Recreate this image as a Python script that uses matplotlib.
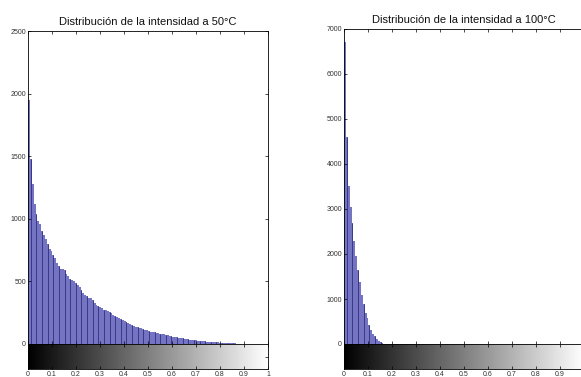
import numpy as np
import matplotlib
matplotlib.use('Agg')
import matplotlib.pyplot as plt

plt.rcParams.update({
    'font.family': ['Liberation Sans Narrow', 'Liberation Sans', 'DejaVu Sans'],
    'axes.linewidth': 0.6,
    'xtick.direction': 'in',
    'ytick.direction': 'in',
    'xtick.major.size': 2.2,
    'ytick.major.size': 2.2,
    'xtick.major.width': 0.5,
    'ytick.major.width': 0.5,
})

# 128 bins de intensidad en [0, 1]
N_BINS = 128

cuentas_50 = [
    1950, 1480, 1280, 1120, 1040, 980, 960, 900, 870, 840,
    800, 760, 740, 710, 690, 650, 620, 600, 600, 590,
    560, 540, 520, 510, 500, 490, 470, 455, 430, 410,
    390, 380, 370, 365, 350, 330, 315, 305, 295, 285,
    275, 270, 262, 256, 245, 232, 220, 212, 205, 200,
    195, 185, 176, 168, 160, 152, 145, 138, 135, 130,
    126, 120, 114, 108, 100, 97, 95, 92, 90, 86,
    82, 78, 76, 72, 68, 64, 60, 58, 55, 52,
    50, 47, 45, 42, 40, 38, 35, 32, 30, 28,
    26, 24, 22, 21, 20, 19, 18, 16, 15, 14,
    13, 12, 11, 10, 9, 8, 7, 6, 5, 5,
    4, 3, 3, 2, 2, 1, 0, 0, 0, 0,
    0, 0, 0, 0, 0, 0, 0, 0,
]

cuentas_100_ini = [
    6700, 4600, 3500, 3050, 2700, 2300, 1950, 1650, 1380, 1100,
    880, 700, 580, 430, 320, 230, 170, 120, 70, 40,
    15, 5,
]
cuentas_100 = cuentas_100_ini + [0] * (N_BINS - len(cuentas_100_ini))

titulos = ['Distribución de la intensidad a 50°C',
           'Distribución de la intensidad a 100°C']
ylims = [2500, 7000]
yticks = [np.arange(0, 2501, 500), np.arange(0, 7001, 1000)]
xticks = np.round(np.arange(0, 1.01, 0.1), 1)
# el panel derecho queda recortado antes de llegar al "1"
xticklabels = [
    ['0', '0.1', '0.2', '0.3', '0.4', '0.5', '0.6', '0.7', '0.8', '0.9', '1'],
    ['0', '0.1', '0.2', '0.3', '0.4', '0.5', '0.6', '0.7', '0.8', '0.9', ''],
]

COLOR_BARRA = '#7474c2'
COLOR_LINEA = '#1e1e70'
COLOR_TEXTO = '#333333'

W, H = 581, 377
fig = plt.figure(figsize=(W / 100, H / 100), dpi=100)


def px_axes(x0, y_top, x1, y_bot):
    return fig.add_axes([x0 / W, 1 - y_bot / H, (x1 - x0) / W, (y_bot - y_top) / H])


paneles = [
    (28, 31, 268, 344, 369),
    (344, 29, 584, 344, 369),
]

bordes = np.linspace(0, 1, N_BINS + 1)
ancho = bordes[1] - bordes[0]
gradiente = np.linspace(0, 1, 256).reshape(1, -1)

for (x0, yt, x1, yb, yc), cuentas, titulo, ylim, yt_vals, xlabs in zip(
        paneles, [cuentas_50, cuentas_100], titulos, ylims, yticks, xticklabels):
    ax = px_axes(x0, yt, x1, yb)
    ax.bar(bordes[:-1], cuentas, width=ancho, align='edge',
           color=COLOR_BARRA, linewidth=0)
    # líneas oscuras tipo stem de imhist
    idx = np.arange(1, N_BINS, 3)
    alturas = np.array(cuentas)[idx]
    mask = alturas > 0
    ax.vlines(bordes[idx][mask] + ancho * 0.5, 0, alturas[mask],
              color=COLOR_LINEA, linewidth=0.6, alpha=0.8)

    ax.set_xlim(0, 1)
    ax.set_ylim(0, ylim)
    ax.set_xticks(xticks)
    ax.set_xticklabels([])
    ax.set_yticks(yt_vals)
    ax.set_yticklabels([str(v) for v in yt_vals], fontsize=5, color=COLOR_TEXTO)
    ax.tick_params(top=True, right=True, pad=1.5)
    ax.set_title(titulo, fontsize=8, pad=4, color='#111111')

    # barra de grises debajo
    cb = px_axes(x0, yb, x1, yc)
    cb.imshow(gradiente, cmap='gray', aspect='auto', extent=[0, 1, 0, 1],
              vmin=0, vmax=1)
    cb.set_xlim(0, 1)
    cb.set_ylim(0, 1)
    cb.set_xticks(xticks)
    cb.set_xticklabels(xlabs, fontsize=5, color=COLOR_TEXTO)
    cb.set_yticks([0.5])
    cb.set_yticklabels([])
    cb.tick_params(top=True, right=True, pad=1.5)

fig.savefig('out.png', dpi=100)
